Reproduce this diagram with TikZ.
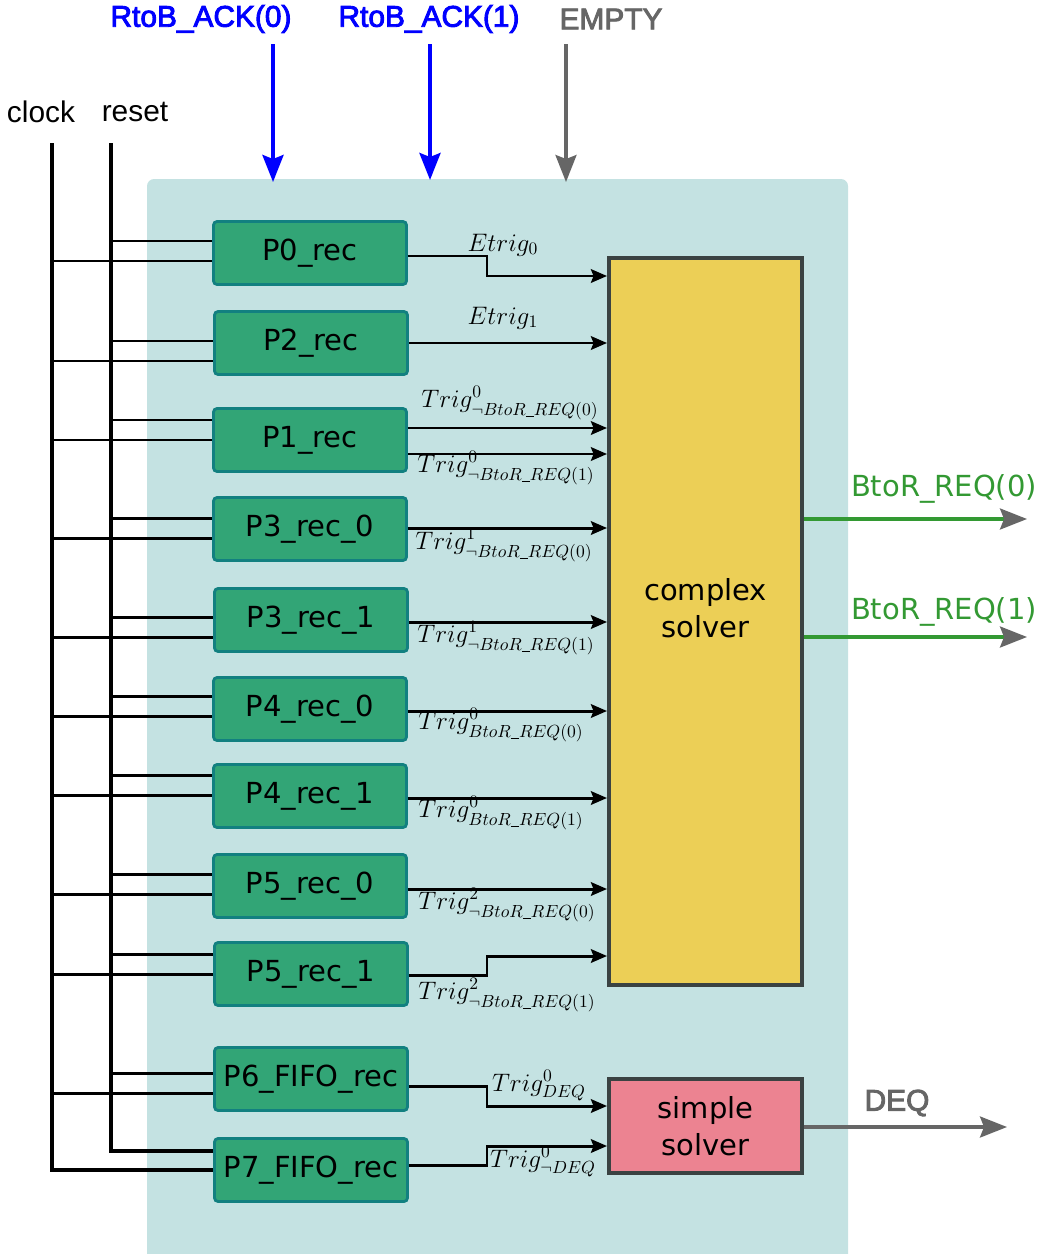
\documentclass[tikz,border=0pt]{standalone}
\usepackage{amsmath}
\usepackage{fontspec}
\newfontfamily\arialfont{Liberation Sans}
\newfontfamily\arialheavy[FakeBold=3]{Liberation Sans}
\newfontfamily\dejafont{DejaVu Sans}
\usetikzlibrary{arrows.meta,calc,positioning}
\definecolor{panelbg}{RGB}{196,226,226}
\definecolor{recfill}{RGB}{50,165,118}
\definecolor{recdraw}{RGB}{18,128,128}
\definecolor{cplxfill}{RGB}{236,207,86}
\definecolor{smplfill}{RGB}{236,131,145}
\definecolor{solvdraw}{RGB}{58,66,66}
\definecolor{reqgreen}{RGB}{51,153,51}
\definecolor{sigblue}{RGB}{0,0,255}
\definecolor{siggray}{RGB}{102,102,102}
\newcommand{\usc}{\text{\rule[-0.12ex]{0.45em}{0.05ex}}}

\begin{document}
\begin{tikzpicture}[x=0.02cm,y=-0.02cm]
  \tikzset{
    rec/.style={draw=recdraw,fill=recfill,line width=1.6pt,rounded corners=2pt,
                minimum width=3.86cm,minimum height=1.26cm,inner sep=0pt,
                font=\dejafont\fontsize{16.5}{19}\selectfont},
    solver/.style={draw=solvdraw,line width=2pt,minimum width=3.87cm,inner sep=0pt},
    soltext/.style={align=center,inner sep=0pt,font=\dejafont\fontsize{16.5}{21}\selectfont},
    sig/.style={line width=1.7pt,-{Stealth[length=0.32cm,width=0.27cm,inset=0.05cm]}},
    big/.style={-{Stealth[length=0.54cm,width=0.42cm,inset=0.08cm]}},
    bus/.style={line width=1.7pt},
    trig/.style={font=\fontsize{14.5}{17}\selectfont,inner sep=0pt},
    sans/.style={font=\arialfont\fontsize{17}{20}\selectfont,inner sep=0pt},
    heavy/.style={font=\arialheavy\fontsize{17}{20}\selectfont,inner sep=0pt},
    dvlab/.style={font=\dejafont\fontsize{16.5}{19}\selectfont,inner sep=0pt}
  }
  \useasboundingbox (0,0) rectangle (1039,1254);
  % panel
  \fill[panelbg,rounded corners=4pt] (147,179) rectangle (848,1264);

  % receivers
  \node[rec] (p0)  at (310,253)  {P0\_rec};
  \node[rec] (p2)  at (311,343)  {P2\_rec};
  \node[rec] (p1)  at (310,440)  {P1\_rec};
  \node[rec] (p30) at (310,529)  {P3\_rec\_0};
  \node[rec] (p31) at (311,620)  {P3\_rec\_1};
  \node[rec] (p40) at (310,709)  {P4\_rec\_0};
  \node[rec] (p41) at (310,796)  {P4\_rec\_1};
  \node[rec] (p50) at (310,886)  {P5\_rec\_0};
  \node[rec] (p51) at (311,974)  {P5\_rec\_1};
  \node[rec] (p6)  at (311,1079) {P6\_FIFO\_rec};
  \node[rec] (p7)  at (311,1170) {P7\_FIFO\_rec};

  % solvers
  \node[solver,fill=cplxfill,minimum height=14.55cm,
        label={[soltext,yshift=0.26cm]center:complex\\solver}] (cs) at (705.5,621.5) {};
  \node[solver,fill=smplfill,minimum height=1.89cm,
        label={[soltext]center:simple\\solver}] (ss) at (705.5,1126) {};

  % clock and reset
  \node[sans] (clklab) at (41,112) {clock};
  \node[sans] (rstlab) at (135,112) {reset};
  \coordinate (clk) at (52,143);
  \coordinate (rst) at (111,143);
  \draw[line width=2.2pt] (clk) |- (p7.west);
  \draw[line width=2.2pt] (rst) |- ($(p7.west)+(0,-19)$);
  \foreach \n/\r in {p0/241,p2/341,p1/420,p30/518,p31/617,p40/696,p41/775,p50/874,p51/954,p6/1073}{
    \draw[bus] (rst |- 0,\r) -- (\n.west |- 0,\r);
    \draw[bus] (clk |- 0,\r+20) -- (\n.west |- 0,\r+20);
  }

  % triggers to the complex solver
  \draw[sig] (p0.east |- 0,256) -- (487,256) |- (cs.west |- 0,276);
  \draw[sig] (p2.east |- 0,343) -- (cs.west |- 0,343);
  \draw[sig] (p1.east |- 0,428) -- (cs.west |- 0,428);
  \draw[sig] (p1.east |- 0,454) -- (cs.west |- 0,454);
  \draw[sig] (p30.east |- 0,528) -- (cs.west |- 0,528);
  \draw[sig] (p31.east |- 0,622) -- (cs.west |- 0,622);
  \draw[sig] (p40.east |- 0,711) -- (cs.west |- 0,711);
  \draw[sig] (p41.east |- 0,798) -- (cs.west |- 0,798);
  \draw[sig] (p50.east |- 0,889) -- (cs.west |- 0,889);
  \draw[sig] (p51.east |- 0,975) -- (487,975) |- (cs.west |- 0,956);
  % triggers to the simple solver
  \draw[sig] (p6.east |- 0,1086) -- (487,1086) |- (ss.west |- 0,1106);
  \draw[sig] (p7.east |- 0,1165) -- (487,1165) |- (ss.west |- 0,1146);

  \node[trig] (t0)  at (503,245)  {$Etrig_0$};
  \node[trig] (t1)  at (503,318)  {$Etrig_1$};
  \node[trig] (t2)  at (510,403)  {$Trig^0_{\neg BtoR\usc REQ(0)}$};
  \node[trig] (t3)  at (506,468)  {$Trig^0_{\neg BtoR\usc REQ(1)}$};
  \node[trig] (t4)  at (504,545)  {$Trig^1_{\neg BtoR\usc REQ(0)}$};
  \node[trig] (t5)  at (506,638)  {$Trig^1_{\neg BtoR\usc REQ(1)}$};
  \node[trig] (t6)  at (501,725)  {$Trig^0_{BtoR\usc REQ(0)}$};
  \node[trig] (t7)  at (501,813)  {$Trig^0_{BtoR\usc REQ(1)}$};
  \node[trig] (t8)  at (507,905)  {$Trig^2_{\neg BtoR\usc REQ(0)}$};
  \node[trig] (t9)  at (507,995)  {$Trig^2_{\neg BtoR\usc REQ(1)}$};
  \node[trig] (t10) at (539,1086) {$Trig^0_{DEQ}$};
  \node[trig] (t11) at (543,1162) {$Trig^0_{\neg DEQ}$};

  % inputs from the top
  \node[heavy,text=sigblue] (ack0) at (201,19) {RtoB\_ACK(0)};
  \node[heavy,text=sigblue] (ack1) at (429,19) {RtoB\_ACK(1)};
  \node[heavy,text=siggray] (empty) at (611,19) {EMPTY};
  \coordinate (a0) at (273,44);
  \coordinate (a1) at (430,44);
  \coordinate (em) at (566,44);
  \draw[sigblue,line width=2.2pt,big] (a0) -- ++(0,138);
  \draw[sigblue,line width=2.2pt,big] (a1) -- ++(0,136);
  \draw[siggray,line width=1.8pt,big] (em) -- ++(0,138);

  % outputs
  \coordinate (r0) at (1027,519);
  \coordinate (r1) at (1027,637);
  \coordinate (dq) at (1007,1127);
  \draw[reqgreen,line width=1.8pt,-{Stealth[length=0.54cm,width=0.42cm,inset=0.08cm,color=siggray]}] (cs.east |- r0) -- (r0);
  \draw[reqgreen,line width=1.8pt,-{Stealth[length=0.54cm,width=0.42cm,inset=0.08cm,color=siggray]}] (cs.east |- r1) -- (r1);
  \draw[siggray,line width=1.8pt,big] (ss.east |- dq) -- (dq);
  \node[dvlab,text=reqgreen] (req0) at (944,489) {BtoR\_REQ(0)};
  \node[dvlab,text=reqgreen] (req1) at (944,612) {BtoR\_REQ(1)};
  \node[heavy,text=siggray] (deq) at (897,1103) {DEQ};
\end{tikzpicture}
\end{document}
